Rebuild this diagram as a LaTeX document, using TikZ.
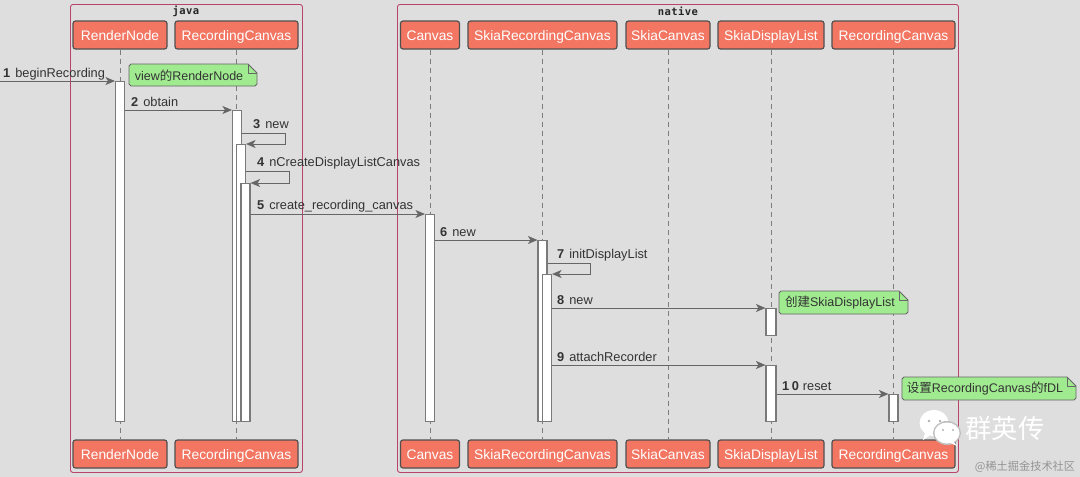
\documentclass[tikz,border=0pt]{standalone}
\usepackage{fontspec}
\setmainfont{Liberation Sans}
\newfontfamily\cjkfont{Noto Sans CJK SC}
\newfontfamily\boxfont[LetterSpace=4]{DejaVu Sans Mono}
\usetikzlibrary{arrows.meta,calc}
\definecolor{canvasgrey}{HTML}{DEDEDE}
\definecolor{framered}{HTML}{B8446A}
\definecolor{actorfill}{HTML}{F27662}
\definecolor{actorline}{HTML}{505050}
\definecolor{linegrey}{HTML}{666666}
\definecolor{barline}{HTML}{7A7A7A}
\definecolor{notegreen}{HTML}{A0EA90}
\definecolor{inkgrey}{HTML}{333333}
\tikzset{
  groupframe/.style={draw=framered,line width=0.9pt,rounded corners=2.5pt},
  grouptitle/.style={font=\boxfont\bfseries\fontsize{10.5}{12}\selectfont,text=black!85,inner sep=0pt},
  actor/.style={draw=actorline,fill=actorfill,line width=1.2pt,rounded corners=2.5pt,
    text=white,font=\fontsize{13.8}{15}\selectfont,minimum height=28pt,inner sep=0pt,
    text height=10pt,text depth=0pt,anchor=center},
  lifeline/.style={draw=linegrey!85,line width=1pt,dash pattern=on 5pt off 4pt},
  bar/.style={draw=barline,fill=white,line width=1.1pt,inner sep=0pt,minimum width=#1,anchor=north},
  msg/.style={draw=linegrey,line width=1pt,-{Stealth[length=9.5pt,width=8pt,inset=2.5pt,fill=linegrey]}},
  msgtext/.style={font=\fontsize{12.8}{14}\selectfont,text=inkgrey,inner sep=0pt,anchor=base west},
  notetext/.style={font=\fontsize{12.5}{14}\selectfont,text=inkgrey,inner sep=0pt,anchor=center},
  notebody/.style={draw=linegrey,fill=notegreen,line width=0.8pt,line join=round},
}
% green note with a folded upper-right corner: #1 x0, #2 y0, #3 x1, #4 y1
\newcommand{\notesheet}[4]{%
  \path[notebody] (#1,#2+2) -- ++(2,-2) -- (#3-9,#2) -- (#3,#2+9) -- (#3,#4-2) -- ++(-2,2) -- (#1+2,#4) -- ++(-2,-2) -- cycle;
  \draw[linegrey,line width=0.8pt,line join=round] (#3-9,#2) -- (#3-9,#2+9) -- (#3,#2+9);
}
\begin{document}
\begin{tikzpicture}[x=1pt,y=-1pt]
\useasboundingbox (0,0) rectangle (1080,477);
\fill[canvasgrey] (0,0) rectangle (1080,477);

% group frames
\node[groupframe,minimum width=232pt,minimum height=468pt,anchor=north west,inner sep=0pt] (java) at (70,4) {};
\node[groupframe,minimum width=561pt,minimum height=468pt,anchor=north west,inner sep=0pt] (native) at (397,4) {};
\node[grouptitle] (javatitle) at (186,11) {java};
\node[grouptitle] (nativetitle) at (678,11) {native};

% participants, top and bottom rows
\foreach \id/\cx/\bw/\lbl in {rn/120/94/RenderNode,rc/236.5/123/RecordingCanvas,cv/430/59/Canvas,
    src/542.5/149/SkiaRecordingCanvas,sc/668/84/SkiaCanvas,sdl/771/106/SkiaDisplayList,nrc/893.5/123/RecordingCanvas}{
  \node[actor,minimum width=\bw pt] (\id t) at (\cx,35) {\lbl};
  \node[actor,minimum width=\bw pt] (\id b) at (\cx,454) {\lbl};
  \path[lifeline] (\id t) -- (\id b);
}

% activation bars
\node[bar=9pt,minimum height=340pt] (a1) at (120,81) {};
\node[bar=9pt,minimum height=311pt] (b1) at (237,110) {};
\node[bar=9pt,minimum height=277pt] (b2) at (241,144) {};
\node[bar=9pt,minimum height=238pt] (b3) at (245.5,183) {};
\node[bar=9pt,minimum height=207pt] (c1) at (430,214) {};
\node[bar=9pt,minimum height=181pt] (d1) at (542.5,240) {};
\node[bar=9pt,minimum height=147pt] (d2) at (547,274) {};
\node[bar=10pt,minimum height=27pt] (e1) at (771,308) {};
\node[bar=10pt,minimum height=56pt] (e2) at (771,365) {};
\node[bar=9pt,minimum height=27pt] (f1) at (893.5,394) {};

% messages
\coordinate (entry) at (0,81);
\draw[msg] (entry) -- (a1.north west);
\draw[msg] (a1.east |- b1.north) -- (b1.north west);
\draw[msg] (b1.east |- 0,133) -- (285,133) -- (285,144) -- (b2.north east);
\draw[msg] (b2.east |- 0,171) -- (289,171) -- (289,183) -- (b3.north east);
\draw[msg] (b3.east |- c1.north) -- (c1.north west);
\draw[msg] (c1.east |- d1.north) -- (d1.north west);
\draw[msg] (d1.east |- 0,263) -- (590,263) -- (590,274) -- (d2.north east);
\draw[msg] (d2.east |- e1.north) -- (e1.north west);
\draw[msg] (d2.east |- e2.north) -- (e2.north west);
\draw[msg] (e2.east |- f1.north) -- (f1.north west);

% message labels
\node[msgtext] (m1) at (3,77) {\textbf{1}\hspace{5pt}beginRecording};
\node[msgtext] (m2) at (131,106) {\textbf{2}\hspace{5pt}obtain};
\node[msgtext] (m3) at (253,128) {\textbf{3}\hspace{5pt}new};
\node[msgtext] (m4) at (257,166) {\textbf{4}\hspace{5pt}nCreateDisplayListCanvas};
\node[msgtext] (m5) at (257,209) {\textbf{5}\hspace{5pt}create\_recording\_canvas};
\node[msgtext] (m6) at (440,236) {\textbf{6}\hspace{5pt}new};
\node[msgtext] (m7) at (557,258) {\textbf{7}\hspace{5pt}initDisplayList};
\node[msgtext] (m8) at (557,304) {\textbf{8}\hspace{5pt}new};
\node[msgtext] (m9) at (557,361) {\textbf{9}\hspace{5pt}attachRecorder};
\node[msgtext] (m10) at (782,390) {\textbf{1\hspace{2.5pt}0}\hspace{4pt}reset};

% notes
\notesheet{129}{64}{257}{86}
\node[notetext] (n1) at (189,75.5) {view{\cjkfont 的}RenderNode};
\notesheet{779}{291}{908}{314}
\node[notetext] (n2) at (840,302.5) {{\cjkfont 创建}SkiaDisplayList};
\notesheet{902}{377}{1076}{400}
\node[notetext] (n3) at (985,388.5) {{\cjkfont 设置}RecordingCanvas{\cjkfont 的}fDL};

% channel mark in the lower right corner
\fill[white] (934,423) ellipse (14.5pt and 13pt);
\fill[white] (925,433) -- (923,440) -- (932,434) -- cycle;
\fill[black!25] (947,433) ellipse (14pt and 12pt);
\fill[white] (947,433) ellipse (12.5pt and 10.5pt);
\fill[white] (953,441) -- (957,446) -- (948,442) -- cycle;
\fill[linegrey!50] (929,421) circle (1.4pt) (940,421) circle (1.4pt);
\fill[linegrey!50] (943,430) circle (1.2pt) (953,430) circle (1.2pt);
\node[inner sep=0pt,text=white,font=\cjkfont\fontsize{26.3}{28}\selectfont] (brand) at (1005,429) {群英传};
\node[inner sep=0pt,text=black!42,font=\cjkfont\fontsize{11.2}{13}\selectfont] (credit) at (1025,467) {@稀土掘金技术社区};
\end{tikzpicture}
\end{document}
